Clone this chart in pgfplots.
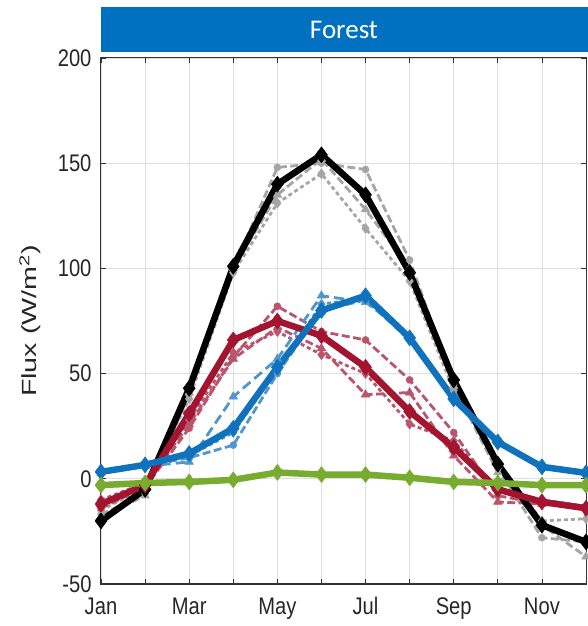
\documentclass[border=0pt]{standalone}
\usepackage{fontspec}
\setmainfont{Liberation Sans}
\newfontfamily\calibri{Carlito}
\newfontfamily\tickfont[FakeStretch=0.84]{Liberation Sans}
\newfontfamily\labfont[FakeStretch=1.4]{Liberation Sans}
\usepackage{pgfplots}
\pgfplotsset{compat=1.18}
\definecolor{titleblue}{RGB}{0,112,192}
\definecolor{mblue}{RGB}{16,114,189}
\definecolor{lblue}{RGB}{80,150,205}
\definecolor{mred}{RGB}{162,20,47}
\definecolor{lred}{RGB}{185,85,108}
\definecolor{mgreen}{RGB}{119,172,48}
\definecolor{lgreen}{RGB}{150,195,95}
\definecolor{lgray}{RGB}{165,165,165}
\definecolor{txt}{RGB}{38,38,38}
\begin{document}
\begin{tikzpicture}[x=1pt,y=1pt]
\begin{axis}[
  at={(101pt,42pt)}, anchor=south west,
  scale only axis, width=485pt, height=526pt,
  xmin=1, xmax=12, ymin=-50, ymax=200,
  xtick={1,...,12},
  xticklabels={Jan,,Mar,,May,,Jul,,Sep,,Nov,},
  ytick={-50,0,50,100,150,200},
  grid=major,
  major grid style={black!13, line width=0.8pt},
  tick align=inside, major tick length=5pt,
  tick style={black!80, line width=0.8pt},
  axis line style={black!80, line width=1pt},
  ticklabel style={font=\tickfont\fontsize{24}{24}\selectfont, text=txt},
  xticklabel style={yshift=-10pt},
  yticklabel style={xshift=-6pt},
  /pgf/number format/assume math mode=true,
  ylabel={Flux (W/m\textsuperscript{2})},
  every axis y label/.style={at={(axis description cs:-0.146,0.5)}, rotate=90, anchor=center,
     font=\labfont\fontsize{20.5}{20.5}\selectfont, text=txt},
  every axis plot/.append style={line join=round},
]
% gray variants
\addplot[lgray, line width=2.8pt, dash pattern=on 8pt off 3.5pt, mark=*, mark size=3.5pt, mark options={solid, line width=0.5pt}] coordinates {(1,-17)(2,-7)(3,40)(4,100)(5,148)(6,150)(7,147)(8,104)(9,45)(10,5)(11,-28)(12,-30)};
\addplot[lgray, line width=2.8pt, dash pattern=on 4pt off 3pt, mark=diamond*, mark size=5pt, mark options={solid, line width=0.5pt}] coordinates {(1,-15)(2,-4)(3,38)(4,98)(5,131)(6,145)(7,119)(8,94)(9,42)(10,8)(11,-20)(12,-19)};
\addplot[lgray, line width=2.8pt, dash pattern=on 8pt off 3.5pt, mark=triangle*, mark size=5pt, mark options={solid, line width=0.5pt}] coordinates {(1,-18)(2,-8)(3,41)(4,100)(5,135)(6,152)(7,128)(8,100)(9,44)(10,3)(11,-22)(12,-37)};
% red variants
\addplot[lred, line width=2.8pt, dash pattern=on 8pt off 3.5pt, mark=*, mark size=3.5pt, mark options={solid, line width=0.5pt}] coordinates {(1,-14)(2,-4)(3,24)(4,58)(5,82)(6,70)(7,66)(8,47)(9,22)(10,-8)(11,-12)(12,-14)};
\addplot[lred, line width=2.8pt, dash pattern=on 4pt off 3pt, mark=diamond*, mark size=5pt, mark options={solid, line width=0.5pt}] coordinates {(1,-10)(2,-2)(3,28)(4,60)(5,70)(6,59)(7,50)(8,26)(9,18)(10,-5)(11,-10)(12,-13)};
\addplot[lred, line width=2.8pt, dash pattern=on 8pt off 3.5pt, mark=triangle*, mark size=5pt, mark options={solid, line width=0.5pt}] coordinates {(1,-12)(2,-3)(3,26)(4,57)(5,72)(6,62)(7,40)(8,41)(9,11)(10,-11)(11,-12)(12,-14)};
% blue variants
\addplot[lblue, line width=2.8pt, dash pattern=on 8pt off 3.5pt, mark=*, mark size=3.5pt, mark options={solid, line width=0.5pt}] coordinates {(1,3)(2,6)(3,10)(4,16)(5,50)(6,80)(7,85)(8,66)(9,37)(10,17)(11,6)(12,3)};
\addplot[lblue, line width=2.8pt, dash pattern=on 10pt off 5pt, mark=triangle*, mark size=5pt, mark options={solid, line width=0.5pt}] coordinates {(1,4)(2,6)(3,8)(4,39)(5,57)(6,87)(7,84)(8,68)(9,39)(10,18)(11,6)(12,3)};
\addplot[lblue, line width=2.8pt, dash pattern=on 4pt off 3pt, mark=diamond*, mark size=5pt, mark options={solid, line width=0.5pt}] coordinates {(1,3)(2,6)(3,11)(4,22)(5,52)(6,83)(7,86)(8,67)(9,38)(10,17)(11,5)(12,3)};
% green variants
\addplot[lgreen, line width=2pt, dash pattern=on 7pt off 3pt, mark=*, mark size=3pt, mark options={solid, line width=0.5pt}] coordinates {(1,-4)(2,-2)(3,-1)(4,0)(5,3)(6,2)(7,2)(8,0)(9,-1)(10,-2)(11,-3)(12,-3)};
% main lines
\addplot[black, line width=6.5pt, mark=diamond*, mark size=8pt, mark options={line width=0.5pt}] coordinates {(1,-20)(2,-5)(3,43)(4,101)(5,140)(6,154)(7,135)(8,98)(9,47)(10,7)(11,-22)(12,-30)};
\addplot[mred, line width=6.5pt, mark=diamond*, mark size=8pt, mark options={line width=0.5pt}] coordinates {(1,-12)(2,-3)(3,31)(4,66)(5,75)(6,68)(7,53)(8,32)(9,15)(10,-5)(11,-11)(12,-14)};
\addplot[mblue, line width=6.5pt, mark=diamond*, mark size=8pt, mark options={line width=0.5pt}] coordinates {(1,3.3)(2,6.6)(3,12)(4,24)(5,53)(6,80)(7,87)(8,67)(9,38)(10,17.5)(11,5.7)(12,2.8)};
\addplot[mgreen, line width=6.5pt, mark=diamond*, mark size=8pt, mark options={line width=0.5pt}] coordinates {(1,-3)(2,-2)(3,-1.5)(4,-0.5)(5,3)(6,2)(7,2)(8,0.5)(9,-1.5)(10,-2)(11,-3)(12,-3)};
\end{axis}
\fill[titleblue] (101,574) rectangle (600,619);
\node[text=white, font=\calibri\fontsize{27}{27}\selectfont] at (344,596.5) {Forest};
\pgfresetboundingbox
\useasboundingbox (0,0) rectangle (587,626);
\end{tikzpicture}
\end{document}
